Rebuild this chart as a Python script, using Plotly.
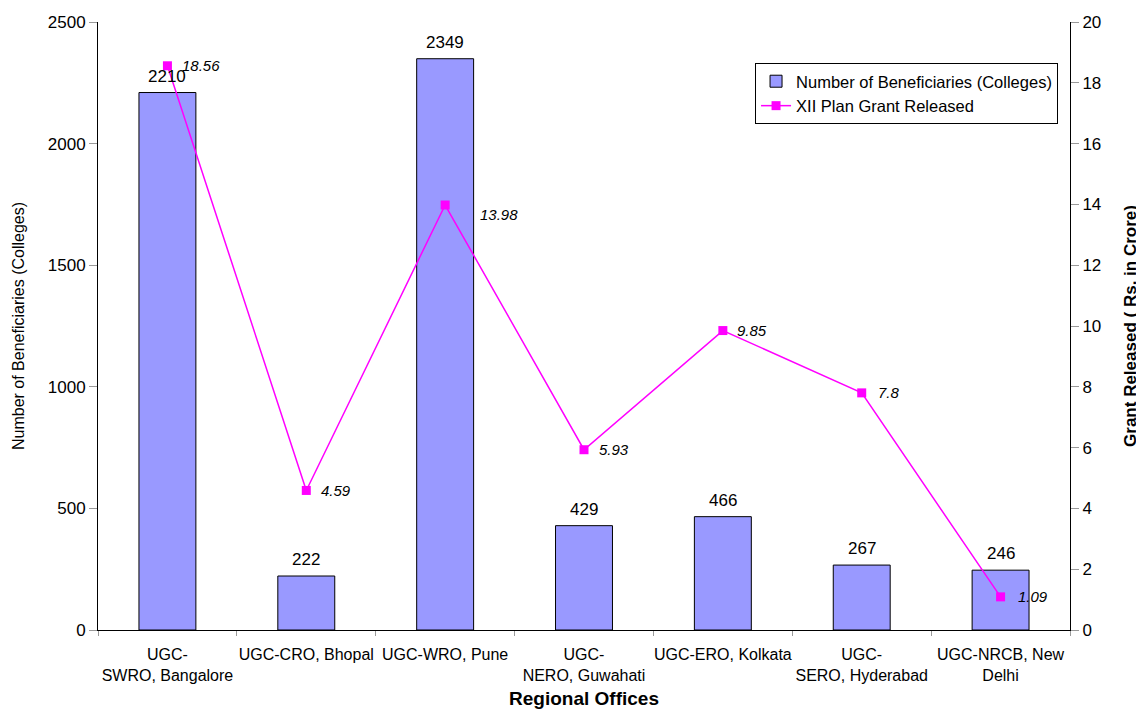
import plotly.graph_objects as go

categories = ["UGC-<br>SWRO, Bangalore", "UGC-CRO, Bhopal", "UGC-WRO, Pune",
              "UGC-<br>NERO, Guwahati", "UGC-ERO, Kolkata", "UGC-<br>SERO, Hyderabad",
              "UGC-NRCB, New<br>Delhi"]
beneficiaries = [2210, 222, 2349, 429, 466, 267, 246]
grant_released = [18.56, 4.59, 13.98, 5.93, 9.85, 7.8, 1.09]
grant_labels = ["18.56", "4.59", "13.98", "5.93", "9.85", "7.8", "1.09"]

FONT = "Liberation Sans, Arial, sans-serif"

# pixel offsets of the italic line-value labels (style only)
label_xshift = [13, 13, 33, 13, 12, 14, 15]
label_yshift = [0, 0, -9, 0, 0, 0, 0]

fig = go.Figure()
fig.add_trace(go.Bar(
    x=categories, y=beneficiaries, name="Number of Beneficiaries (Colleges)",
    marker=dict(color="#9999FF", line=dict(color="black", width=1)),
))
fig.add_trace(go.Scatter(
    x=categories, y=grant_released, name="XII Plan Grant Released", yaxis="y2",
    mode="lines+markers",
    line=dict(color="#FF00FF", width=1.5),
    marker=dict(symbol="square", size=9, color="#FF00FF"),
    cliponaxis=False,
))

annotations = []
for c, v in zip(categories, beneficiaries):
    annotations.append(dict(x=c, y=v, xref="x", yref="y", text=str(v),
                            showarrow=False, yanchor="bottom", yshift=5,
                            font=dict(size=17, color="black", family=FONT)))
for c, v, t, dx, dy in zip(categories, grant_released, grant_labels, label_xshift, label_yshift):
    annotations.append(dict(x=c, y=v, xref="x", yref="y2", text="<i>" + t + "</i>",
                            showarrow=False, xanchor="left", yanchor="middle",
                            xshift=dx, yshift=dy,
                            font=dict(size=15, color="black", family=FONT)))

fig.update_layout(
    width=1136, height=701,
    margin=dict(l=90, r=74, t=14, b=79, autoexpand=False),
    paper_bgcolor="white", plot_bgcolor="white",
    font=dict(family=FONT, size=16, color="black"),
    bargap=0.59,
    showlegend=True,
    annotations=annotations,
    legend=dict(x=0.9877, y=0.9326, xanchor="right", yanchor="top",
                bgcolor="white", bordercolor="black", borderwidth=1,
                font=dict(size=16.5, family=FONT), tracegroupgap=0,
                itemwidth=30),
    xaxis=dict(
        title=dict(text="<b>Regional Offices</b>", font=dict(size=19), standoff=9),
        showline=True, linecolor="black", linewidth=1,
        ticks="outside", tickcolor="#999999", ticklen=5, tickson="boundaries",
        tickfont=dict(size=16), showgrid=False, ticklabelstandoff=10,
        tickangle=0, automargin=False,
    ),
    yaxis=dict(
        title=dict(text="Number of Beneficiaries (Colleges)", font=dict(size=16), standoff=19),
        range=[0, 2500], dtick=500, showline=True, linecolor="black", linewidth=1,
        ticks="outside", tickcolor="#999999", ticklen=8, showgrid=False,
        tickfont=dict(size=17), zeroline=False, automargin=False,
    ),
    yaxis2=dict(
        title=dict(text="<b>Grant Released ( Rs. in Crore)</b>", font=dict(size=17), standoff=23),
        overlaying="y", side="right", range=[0, 20], dtick=2,
        showline=True, linecolor="black", linewidth=1,
        ticks="outside", tickcolor="#999999", ticklen=8, showgrid=False,
        tickfont=dict(size=17), zeroline=False, automargin=False,
    ),
)

fig.write_html("out.html")
